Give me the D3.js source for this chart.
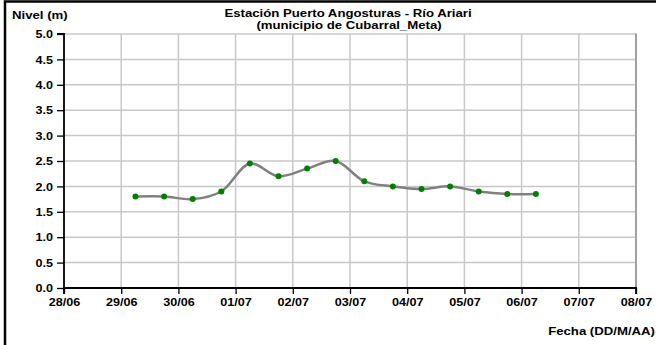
<!DOCTYPE html>
<html><head><meta charset="utf-8">
<script src="https://cdn.jsdelivr.net/npm/d3@7"></script>
<style>
html,body{margin:0;padding:0;background:#fff;overflow:hidden}
text{font-family:"Liberation Sans",Arial,sans-serif;font-weight:bold;fill:#000}
</style></head>
<body><svg id="c" width="656" height="345"></svg>
<script>
const titleLines = ["Estación Puerto Angosturas - Río Ariari", "(municipio de Cubarral_Meta)"];
const yLabel = "Nivel (m)";
const xLabel = "Fecha (DD/M/AA)";
const times = ["2012-06-29T06:00","2012-06-29T18:00","2012-06-30T06:00","2012-06-30T18:00",
  "2012-07-01T06:00","2012-07-01T18:00","2012-07-02T06:00","2012-07-02T18:00",
  "2012-07-03T06:00","2012-07-03T18:00","2012-07-04T06:00","2012-07-04T18:00",
  "2012-07-05T06:00","2012-07-05T18:00","2012-07-06T06:00"];
const levels = [1.80,1.80,1.75,1.90,2.45,2.20,2.35,2.50,2.10,2.00,1.95,2.00,1.90,1.85,1.85];
const xDomain = ["2012-06-28T00:00","2012-07-08T00:00"];
const yTicks = [0,0.5,1,1.5,2,2.5,3,3.5,4,4.5,5];

const parse = d3.timeParse("%Y-%m-%dT%H:%M");
const data = times.map((t,i)=>({t:parse(t), v:levels[i]}));
const SX = 1.2;

const svg = d3.select("#c");
const L=64, R=636, T=34, B=288;
const x = d3.scaleTime().domain(xDomain.map(parse)).range([L,R]);
const y = d3.scaleLinear().domain([0,5]).range([B,T]);
const xTicks = d3.timeDay.range(x.domain()[0], d3.timeDay.offset(x.domain()[1],1));

// outer frame
svg.append("rect").attr("x",5).attr("y",1.5).attr("width",700).attr("height",400)
  .attr("fill","none").attr("stroke","#000").attr("stroke-width",2.5);

// grid
const g = svg.append("g");
g.selectAll("line.h").data(yTicks.slice(1)).join("line")
  .attr("x1",L).attr("x2",R).attr("y1",d=>y(d)).attr("y2",d=>y(d))
  .attr("stroke","#c8c8c8").attr("stroke-width",1.5);
g.selectAll("line.v").data(xTicks.slice(1)).join("line")
  .attr("x1",d=>x(d)).attr("x2",d=>x(d)).attr("y1",T).attr("y2",B)
  .attr("stroke","#c8c8c8").attr("stroke-width",1.5);
// right border
svg.append("line").attr("x1",R).attr("x2",R).attr("y1",T-0.5).attr("y2",B)
  .attr("stroke","#a0a0a0").attr("stroke-width",2);

// axes
const yAxis = svg.append("g").attr("transform",`translate(${L},0)`)
  .call(d3.axisLeft(y).tickValues(yTicks).tickFormat(d3.format(".1f")).tickSize(7).tickPadding(5));
const xAxis = svg.append("g").attr("transform",`translate(0,${B})`)
  .call(d3.axisBottom(x).tickValues(xTicks).tickFormat(d3.timeFormat("%d/%m")).tickSize(6).tickPadding(3));
[yAxis,xAxis].forEach(a=>{
  a.select(".domain").attr("stroke","#000").attr("stroke-width",1.8);
  a.selectAll(".tick line").attr("stroke","#000").attr("stroke-width",1.3);
  a.selectAll("text").style("font-size","10.5px").attr("fill","#000")
   .attr("font-family","Liberation Sans, Arial, sans-serif").attr("font-weight","bold");
});
yAxis.select(".domain").attr("d",`M-7,${T}H0V${B}`);
xAxis.select(".domain").attr("d",`M${L},6V0H${R}V6`);
yAxis.selectAll(".tick text").attr("transform",`scale(${SX},1)`).attr("x",-11/SX).attr("dy","0.35em");
xAxis.selectAll(".tick text").attr("transform",`scale(${SX},1)`).attr("dy","0.9em");

// line + markers
const line = d3.line().x(d=>x(d.t)).y(d=>y(d.v)).curve(d3.curveCatmullRom.alpha(0.5));
svg.append("path").datum(data).attr("d",line).attr("fill","none")
  .attr("stroke","#808080").attr("stroke-width",2.5);
svg.selectAll("circle").data(data).join("circle")
  .attr("cx",d=>x(d.t)).attr("cy",d=>y(d.v)).attr("r",3).attr("fill","#008000");

// texts
function txt(s,xx,yy,anchor,size){
  svg.append("text").attr("transform",`translate(${xx},${yy}) scale(${SX},1)`)
    .attr("text-anchor",anchor).style("font-size",size+"px").text(s);
}
txt(titleLines[0],348,17,"middle",11);
txt(titleLines[1],349,29,"middle",11);
txt(yLabel,12,19,"start",11);
txt(xLabel,655,335,"end",11);
</script></body></html>
